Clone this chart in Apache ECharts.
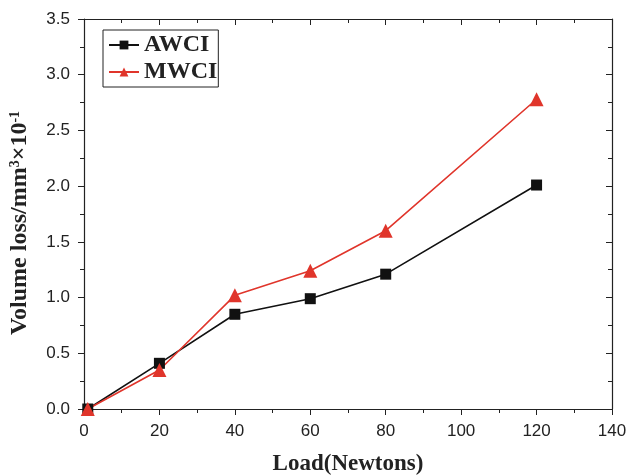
<!DOCTYPE html>
<html>
<head>
<meta charset="utf-8">
<script src="https://cdn.jsdelivr.net/npm/echarts@6/dist/echarts.min.js"></script>
<style>
  html, body { margin: 0; padding: 0; background: #fff; }
  #chart { width: 628px; height: 475px; }
</style>
</head>
<body>
<div id="chart"></div>
<script>
const loads = [1, 20, 40, 60, 80, 120]
const awci = [0.0, 0.41, 0.85, 0.99, 1.21, 2.01]
const mwci = [0.0, 0.35, 1.02, 1.24, 1.60, 2.78]

const pair = (xs, ys) => xs.map((x, i) => [x, ys[i]])

const labelFont = { fontFamily: 'Liberation Sans, Arial', fontSize: 17, color: '#222' }
const titleFont = { fontFamily: 'Liberation Serif, Times New Roman', fontWeight: 'bold', color: '#222' }

const chart = echarts.init(document.getElementById('chart'))

// main axes: ticks out; mirror axes: ticks in
function frame(inside) {
  return {
    axisLine: { show: true, onZero: false, lineStyle: { color: '#222', width: 1.2 } },
    axisTick: { show: true, inside, length: 6, lineStyle: { color: '#222' } },
    minorTick: { show: true, splitNumber: 2, length: 4, lineStyle: { color: '#222' } },
    splitLine: { show: false }
  }
}

chart.setOption({
  animation: false,
  grid: { left: 84, right: 16, top: 19, bottom: 66, outerBoundsMode: 'none' },
  legend: {
    orient: 'vertical',
    left: 103,
    top: 30,
    padding: [3, 1, 3, 5],
    itemGap: 3,
    itemWidth: 30,
    itemHeight: 11,
    borderColor: '#222',
    borderWidth: 1,
    textStyle: { ...titleFont, fontSize: 24 },
    data: ['AWCI', 'MWCI']
  },
  xAxis: [
    {
      type: 'value', min: 0, max: 140, interval: 20,
      name: 'Load(Newtons)', nameLocation: 'middle', nameGap: 44,
      nameTextStyle: { ...titleFont, fontSize: 23 },
      axisLabel: { ...labelFont, margin: 14 },
      ...frame(false)
    },
    {
      type: 'value', min: 0, max: 140, interval: 20, position: 'top',
      axisLabel: { show: false }, ...frame(true)
    }
  ],
  yAxis: [
    {
      type: 'value', min: 0, max: 3.5, interval: 0.5,
      name: 'Volume loss/mm{sup|3}×10{sup|-1}', nameLocation: 'middle', nameGap: 52,
      nameTextStyle: {
        ...titleFont, fontSize: 24, padding: [0, 18, 0, 0],
        rich: {
          sup: { ...titleFont, fontSize: 14, verticalAlign: 'top', padding: [0, 0, 9, 0] }
        }
      },
      axisLabel: { ...labelFont, margin: 14, formatter: v => v.toFixed(1) },
      ...frame(false)
    },
    {
      type: 'value', min: 0, max: 3.5, interval: 0.5, position: 'right',
      axisLabel: { show: false }, ...frame(true)
    }
  ],
  series: [
    {
      name: 'AWCI', type: 'line', data: pair(loads, awci),
      symbol: 'rect', symbolSize: 11,
      lineStyle: { color: '#111', width: 1.6 },
      itemStyle: { color: '#111' }
    },
    {
      name: 'MWCI', type: 'line', data: pair(loads, mwci),
      symbol: 'triangle', symbolSize: 14,
      lineStyle: { color: '#e0352b', width: 1.6 },
      itemStyle: { color: '#e0352b' }
    }
  ]
})
</script>
</body>
</html>
